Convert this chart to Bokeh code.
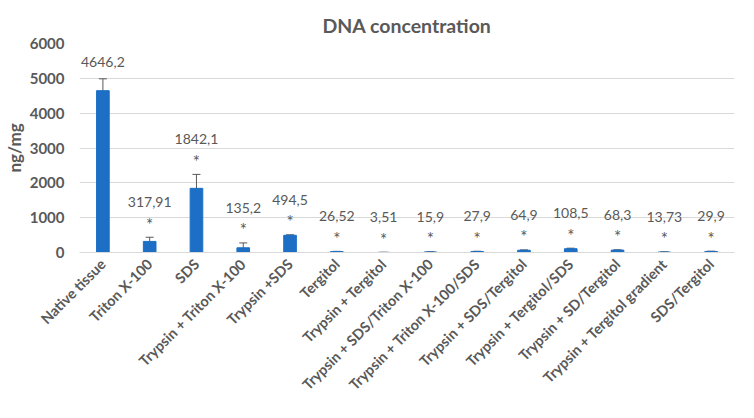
import numpy as np
from bokeh.plotting import figure
from bokeh.models import ColumnDataSource, FactorRange, Whisker, Range1d, FixedTicker, TeeHead
from bokeh.core.properties import value
from bokeh.embed import file_html
from bokeh.resources import INLINE

# data
treatments = ["Native tissue", "Triton X-100", "SDS", "Trypsin + Triton X-100",
              "Trypsin +SDS", "Tergitol", "Trypsin + Tergitol",
              "Trypsin + SDS/Triton X-100", "Trypsin + Triton X-100/SDS",
              "Trypsin + SDS/Tergitol", "Trypsin + Tergitol/SDS",
              "Trypsin + SD/Tergitol", "Trypsin + Tergitol gradient", "SDS/Tergitol"]
dna = [4646.2, 317.91, 1842.1, 135.2, 494.5, 26.52, 3.51, 15.9, 27.9, 64.9,
       108.5, 68.3, 13.73, 29.9]
err = [340, 120, 400, 140, 15, 6, 2, 4, 8, 10, 15, 10, 4, 8]
value_labels = ["4646,2", "317,91", "1842,1", "135,2", "494,5", "26,52", "3,51",
                "15,9", "27,9", "64,9", "108,5", "68,3", "13,73", "29,9"]
significant = [False] + [True] * 13

GREY = "#595959"
FONT = "Lato"

tops = [d + e for d, e in zip(dna, err)]
source = ColumnDataSource(data=dict(
    x=treatments, top=dna, upper=tops,
    lower=[d - e for d, e in zip(dna, err)],
    label=value_labels,
    label_off=[-35 if s else -17 for s in significant],
))
star_source = ColumnDataSource(data=dict(
    x=[t for t, s in zip(treatments, significant) if s],
    y=[u for u, s in zip(tops, significant) if s],
    star=["*" for s in significant if s],
))

p = figure(x_range=FactorRange(*treatments), y_range=Range1d(0, 6000),
           width=738, height=402, output_backend="svg", toolbar_location=None,
           min_border_left=60, min_border_right=4, min_border_top=43,
           min_border_bottom=150)

p.title.text = "DNA concentration"
p.title.align = "center"
p.title.text_font = FONT
p.title.text_font_style = "bold"
p.title.text_font_size = "19.5px"
p.title.text_color = GREY
p.title.offset = -12
p.title.standoff = 14

p.vbar(x="x", top="top", width=0.27, color="#1C6FC4", source=source)
p.add_layout(Whisker(base="x", upper="upper", lower="lower", source=source,
                     line_color=GREY, line_width=1,
                     upper_head=TeeHead(size=8, line_color=GREY),
                     lower_head=TeeHead(size=8, line_color=GREY)))

p.text(x="x", y="upper", text="label", y_offset="label_off", source=source,
       text_align="center", text_baseline="middle", text_font=value(FONT),
       text_font_size="14px", text_color=GREY)
p.text(x="x", y="y", text="star", y_offset=-13, source=star_source,
       text_align="center", text_baseline="middle", text_font=value(FONT),
       text_font_size="17px", text_color=GREY)

p.yaxis.ticker = FixedTicker(ticks=[0, 1000, 2000, 3000, 4000, 5000, 6000])
p.yaxis.axis_label = "ng/mg"
p.yaxis.axis_label_text_font = FONT
p.yaxis.axis_label_text_font_style = "bold"
p.yaxis.axis_label_text_font_size = "17px"
p.yaxis.axis_label_text_color = GREY
p.yaxis.axis_label_standoff = 2
p.yaxis.major_label_text_font = FONT
p.yaxis.major_label_text_font_style = "bold"
p.yaxis.major_label_text_font_size = "15px"
p.yaxis.major_label_text_color = GREY
p.yaxis.major_label_standoff = 9
p.yaxis.axis_line_color = None
p.yaxis.major_tick_line_color = None
p.yaxis.minor_tick_line_color = None

p.xaxis.major_label_orientation = np.pi / 4
p.xaxis.major_label_text_font = FONT
p.xaxis.major_label_text_font_style = "bold"
p.xaxis.major_label_text_font_size = "14.5px"
p.xaxis.major_label_text_color = GREY
p.xaxis.major_label_standoff = 3
p.xaxis.axis_line_color = "#d9d9d9"
p.xaxis.major_tick_line_color = None
p.xaxis.minor_tick_line_color = None

p.xgrid.grid_line_color = None
p.ygrid.grid_line_color = "#d9d9d9"
p.outline_line_color = None

open("out.html", "w").write(file_html(p, INLINE))
